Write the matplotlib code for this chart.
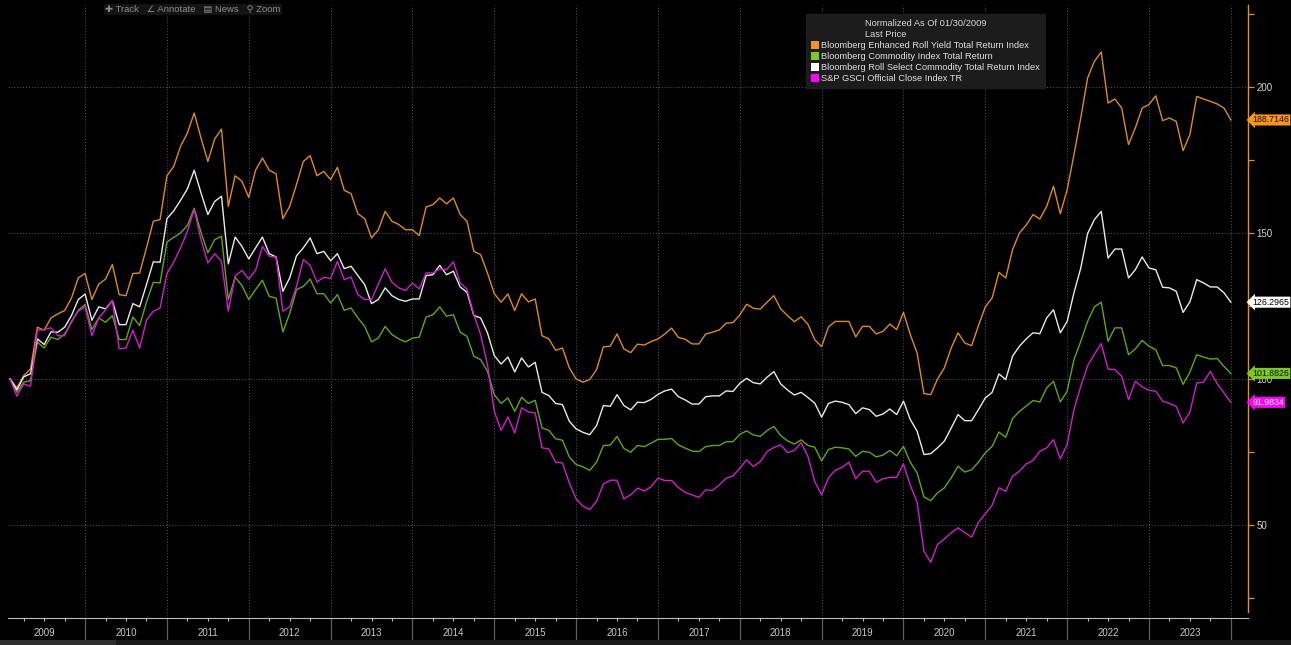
import matplotlib
matplotlib.use("Agg")
import matplotlib.pyplot as plt
import numpy as np
from matplotlib.patches import Patch, Rectangle
from matplotlib.ticker import MultipleLocator, FixedLocator, NullFormatter

# monthly values, Jan 2009 .. Dec 2023, normalized to 100 at 01/30/2009
enhanced_roll = [
    100.0, 96.9, 101.1, 103.4, 117.7, 116.7, 120.9, 122.3, 123.4, 127.7, 134.6, 136.1,
    127.2, 132.5, 134.2, 139.2, 128.9, 128.5, 136.1, 136.3, 144.9, 154.0, 154.6, 169.6,
    172.8, 179.7, 184.2, 191.1, 182.5, 174.5, 182.2, 185.6, 159.1, 169.6, 167.7, 162.2,
    171.5, 175.7, 171.5, 170.3, 154.9, 159.1, 166.6, 174.5, 176.5, 169.6, 171.1, 168.3,
    172.5, 164.6, 163.5, 156.6, 154.9, 148.3, 151.1, 157.4, 154.0, 152.9, 151.1, 151.1,
    149.1, 158.9, 159.7, 162.0, 160.0, 162.0, 156.3, 154.0, 143.7, 142.6, 136.3, 129.2,
    126.3, 129.1, 123.4, 129.2, 126.4, 127.4, 114.8, 113.7, 109.8, 110.6, 103.8, 100.0,
    98.9, 99.8, 103.2, 111.0, 111.2, 115.4, 110.3, 109.0, 111.9, 111.6, 112.8, 113.7,
    115.4, 117.4, 114.2, 113.6, 112.0, 112.0, 115.4, 116.0, 116.8, 119.1, 119.3, 121.9,
    125.6, 124.2, 123.9, 126.3, 128.5, 124.0, 121.7, 119.6, 121.3, 118.7, 113.4, 111.1,
    117.8, 119.7, 119.7, 119.7, 114.4, 118.0, 118.0, 115.4, 116.3, 118.8, 116.9, 122.8,
    115.2, 108.9, 95.0, 94.6, 100.0, 103.8, 110.6, 115.8, 112.3, 111.4, 118.3, 124.7,
    127.7, 136.5, 134.6, 144.3, 150.0, 152.7, 156.3, 154.8, 159.1, 166.0, 156.6, 164.8,
    176.8, 189.4, 203.1, 208.8, 212.0, 194.5, 195.9, 192.8, 180.3, 186.0, 192.8, 194.0,
    197.0, 188.5, 189.4, 188.2, 178.2, 183.7, 196.8, 195.9, 195.1, 194.2, 192.8, 188.7146,
]
bcom_tr = [
    100.0, 95.4, 98.9, 99.4, 112.6, 110.6, 114.3, 113.5, 115.4, 119.4, 123.5, 125.5,
    116.9, 120.9, 119.4, 121.7, 113.5, 113.5, 121.2, 118.3, 126.3, 133.1, 132.9, 146.9,
    148.5, 150.0, 152.6, 158.5, 150.2, 143.2, 147.7, 148.9, 127.2, 134.8, 132.0, 127.2,
    130.6, 133.8, 128.3, 127.7, 116.1, 122.4, 130.6, 131.7, 134.2, 129.2, 129.2, 126.0,
    128.9, 123.5, 124.3, 120.9, 118.0, 112.7, 114.0, 118.0, 115.2, 113.7, 112.7, 114.0,
    114.3, 121.2, 122.0, 124.7, 121.5, 122.0, 116.0, 114.6, 107.8, 106.6, 102.6, 94.6,
    91.6, 93.5, 88.9, 93.7, 91.6, 92.7, 83.2, 82.4, 79.5, 79.0, 73.3, 70.7,
    69.9, 68.7, 71.5, 77.2, 77.3, 80.3, 76.2, 74.9, 77.2, 76.8, 78.0, 79.3,
    79.3, 79.6, 77.4, 76.3, 75.3, 75.1, 76.8, 77.2, 77.2, 78.5, 78.5, 81.0,
    82.2, 80.8, 80.3, 82.3, 83.7, 80.6, 78.8, 77.7, 79.1, 77.2, 76.6, 71.9,
    75.8, 76.6, 76.4, 76.0, 73.5, 75.2, 74.9, 73.3, 73.9, 75.5, 73.7, 76.9,
    71.5, 67.8, 59.6, 58.3, 61.0, 62.7, 66.1, 70.1, 68.1, 68.9, 71.5, 74.7,
    76.9, 81.8, 80.0, 86.4, 88.9, 90.7, 92.6, 92.1, 96.9, 99.2, 92.1, 95.8,
    106.6, 112.9, 119.7, 124.7, 126.3, 112.9, 117.5, 117.5, 108.3, 110.3, 113.2, 111.2,
    110.0, 104.6, 104.6, 103.8, 98.1, 102.3, 108.3, 107.5, 106.8, 107.0, 104.3, 101.8826,
]
roll_select = [
    100.0, 96.3, 100.7, 101.8, 113.7, 111.8, 116.1, 116.0, 117.7, 121.7, 127.2, 129.1,
    120.1, 124.7, 124.0, 126.8, 118.6, 118.6, 125.8, 124.7, 132.3, 140.1, 140.0, 154.9,
    157.6, 161.2, 165.1, 171.5, 163.7, 156.3, 160.8, 162.6, 139.4, 148.6, 145.4, 141.1,
    144.9, 148.6, 142.9, 141.8, 130.0, 134.6, 142.2, 144.9, 148.3, 142.9, 143.7, 140.5,
    142.9, 137.8, 138.6, 135.4, 132.3, 125.8, 127.2, 131.2, 128.5, 127.2, 126.6, 127.4,
    127.4, 135.4, 135.7, 138.9, 135.7, 136.9, 131.5, 129.7, 121.7, 120.9, 115.8, 108.0,
    105.1, 107.5, 102.4, 107.2, 104.1, 105.7, 95.4, 94.3, 91.6, 91.2, 85.5, 82.9,
    81.7, 80.9, 84.0, 90.9, 90.6, 94.6, 90.9, 89.4, 92.0, 91.9, 93.0, 94.7,
    95.9, 96.5, 93.9, 92.8, 91.4, 91.4, 93.9, 94.2, 94.2, 95.9, 95.7, 98.5,
    100.2, 98.7, 98.3, 100.6, 102.5, 98.3, 96.2, 94.5, 95.4, 93.6, 91.7, 86.9,
    91.6, 92.4, 92.0, 91.2, 88.1, 90.1, 89.5, 87.2, 88.0, 89.7, 87.8, 92.4,
    86.1, 82.1, 74.1, 74.4, 76.4, 78.7, 83.2, 87.8, 85.7, 85.7, 89.5, 93.5,
    95.4, 101.7, 99.8, 107.8, 111.2, 113.7, 115.8, 115.5, 120.9, 123.7, 115.8, 119.7,
    129.5, 138.0, 149.8, 154.6, 157.4, 141.4, 144.5, 144.5, 134.6, 137.4, 141.8, 138.0,
    137.4, 131.4, 131.2, 130.0, 122.8, 126.4, 134.0, 132.9, 131.5, 131.5, 129.5, 126.2965,
]
gsci_tr = [
    100.0, 94.1, 98.3, 97.5, 116.7, 116.9, 117.5, 114.8, 114.8, 119.7, 123.2, 124.7,
    114.8, 120.9, 123.7, 126.9, 110.3, 110.6, 116.7, 110.6, 120.1, 123.2, 124.3, 136.1,
    140.0, 144.9, 150.6, 158.0, 147.7, 139.7, 142.9, 140.3, 123.2, 135.2, 137.2, 134.2,
    137.2, 145.4, 142.0, 141.7, 123.2, 124.7, 131.7, 140.9, 138.9, 133.2, 134.8, 134.4,
    140.3, 134.0, 134.9, 128.9, 127.2, 127.2, 132.5, 137.7, 133.1, 131.2, 130.3, 132.9,
    130.8, 136.3, 136.3, 137.7, 137.4, 140.1, 132.9, 130.8, 122.0, 115.2, 104.9, 88.9,
    82.4, 87.0, 81.5, 90.1, 88.7, 88.4, 76.4, 76.0, 71.5, 71.2, 64.4, 58.9,
    56.4, 55.2, 58.1, 64.0, 65.3, 65.3, 58.9, 60.3, 62.6, 61.6, 63.1, 66.0,
    65.2, 65.2, 62.8, 61.1, 60.3, 59.4, 62.0, 61.8, 63.7, 66.0, 66.8, 69.4,
    72.3, 70.0, 71.7, 75.1, 76.5, 77.4, 74.8, 75.5, 78.2, 73.4, 64.8, 60.3,
    66.1, 68.7, 69.7, 71.5, 65.8, 68.4, 68.4, 64.6, 65.8, 66.3, 66.3, 70.9,
    63.6, 57.8, 41.0, 37.2, 43.3, 45.2, 47.3, 49.0, 47.3, 45.8, 50.9, 53.8,
    56.7, 62.7, 61.5, 66.7, 68.4, 70.9, 72.1, 75.2, 76.4, 79.2, 72.6, 77.5,
    89.5, 97.5, 104.5, 108.5, 112.1, 103.4, 103.2, 100.9, 92.9, 99.2, 97.3, 96.1,
    95.8, 92.4, 91.6, 90.6, 84.9, 88.6, 98.6, 98.9, 102.6, 98.4, 95.2, 91.9834,
]

series_names = [
    "Bloomberg Enhanced Roll Yield Total Return Index",
    "Bloomberg Commodity Index Total Return",
    "Bloomberg Roll Select Commodity Total Return Index",
    "S&P GSCI Official Close Index TR",
]
years = list(range(2009, 2024))

# month-end positions as fractional years
months = np.arange(len(enhanced_roll))
x = 2009 + (months + 1) / 12.0

line_colors = ["#dd8c1c", "#5fa812", "#e8e8e8", "#d01ed0"]
tag_colors = ["#f7941d", "#7cc81e", "#ffffff", "#ff00ff"]
tag_text = ["#1a1000", "#0b1a00", "#000000", "#ffffff"]
all_series = [enhanced_roll, bcom_tr, roll_select, gsci_tr]

W, H = 1291, 645
fig = plt.figure(figsize=(W / 100, H / 100), dpi=100, facecolor="black")
ax = fig.add_axes([8 / W, 1 - 618 / H, (1248 - 8) / W, (618 - 5) / H])
ax.set_facecolor("black")

for vals, c in zip(all_series, line_colors):
    ax.plot(x, vals, color=c, lw=1.0, zorder=3)

ax.set_xlim(2009.058, 2024.21)
ax.set_ylim(18.1, 228.1)

# axes styling
for s in ["top", "left"]:
    ax.spines[s].set_visible(False)
ax.spines["bottom"].set_color("#bdbdbd")
ax.spines["bottom"].set_linewidth(0.8)
ax.spines["right"].set_color("#e8901e")
ax.spines["right"].set_linewidth(1.0)
ax.spines["right"].set_bounds(20.2, 228.1)

ax.yaxis.tick_right()
ax.yaxis.set_major_locator(MultipleLocator(50))
ax.yaxis.set_minor_locator(FixedLocator([25, 75, 125, 175, 225]))
ax.tick_params(axis="y", which="both", direction="out", length=4, width=0.9,
               color="#e8901e", labelcolor="#d4d4d4", labelsize=7, pad=2)
for lab in ax.get_yticklabels():
    lab.set_family("Liberation Sans")

ax.xaxis.set_major_locator(FixedLocator(np.arange(2010, 2025)))
ax.xaxis.set_minor_locator(MultipleLocator(0.25))
ax.xaxis.set_major_formatter(NullFormatter())
ax.tick_params(axis="x", which="major", direction="out", length=16, width=0.9,
               color="#5e5e5e")
ax.tick_params(axis="x", which="minor", direction="out", length=2.5, width=0.8,
               color="#bdbdbd")

ax.grid(True, which="major", linestyle=(0, (1, 2)), color="#585858", linewidth=0.7)

trans = ax.get_xaxis_transform()
for yr in years:
    ax.text(yr + 0.5, -15 / 613, str(yr), transform=trans, ha="center", va="center",
            color="#c8c8c8", fontsize=7, family="Liberation Sans")

# last value tags on the right axis
for vals, fc, tc in zip(all_series, tag_colors, tag_text):
    ax.annotate(f"{vals[-1]:.4f}", xy=(1, vals[-1]), xycoords=("axes fraction", "data"),
                xytext=(3.2, 0), textcoords="offset points", ha="left", va="center",
                fontsize=6.3, family="Liberation Sans", color=tc,
                bbox=dict(boxstyle="larrow,pad=0.12", fc=fc, ec="none"),
                annotation_clip=False, zorder=5)

# legend
handles = [Patch(facecolor=c, edgecolor="none") for c in tag_colors]
leg = ax.legend(handles, series_names, loc="upper left",
                bbox_to_anchor=(806 / W, 1 - 14 / H), bbox_transform=fig.transFigure,
                title="Normalized As Of 01/30/2009\nLast Price",
                prop=dict(family="Liberation Sans", size=6.7),
                title_fontproperties=dict(family="Liberation Sans", size=6.7),
                frameon=True, fancybox=False, facecolor="#1c1c1c", edgecolor="#1c1c1c",
                framealpha=1, handlelength=0.85, handleheight=0.85, handletextpad=0.3,
                labelspacing=0.22, borderpad=0.5, borderaxespad=0)
leg.get_title().set_color("#d8d8d8")
leg.get_title().set_linespacing(1.35)
for t in leg.get_texts():
    t.set_color("#e0e0e0")
leg.set_zorder(6)

# toolbar strip at top left
fig.text(105 / W, 1 - 9.5 / H, "\u271a Track   \u2220 Annotate   \u25a4 News   \u26b2 Zoom",
         color="#8c8c8c", fontsize=6.8, family=["Liberation Sans", "DejaVu Sans"],
         va="center", ha="left",
         bbox=dict(boxstyle="square,pad=0.15", fc="#141414", ec="none"))

# bottom status strip
fig.patches.append(Rectangle((0, 0), 1, 5 / H, transform=fig.transFigure,
                             fc="#1a1a1a", ec="none"))
fig.patches.append(Rectangle((0, 0), 116 / W, 5 / H, transform=fig.transFigure,
                             fc="#2e2e2e", ec="none"))

fig.savefig("out.png", dpi=100, facecolor="black")
